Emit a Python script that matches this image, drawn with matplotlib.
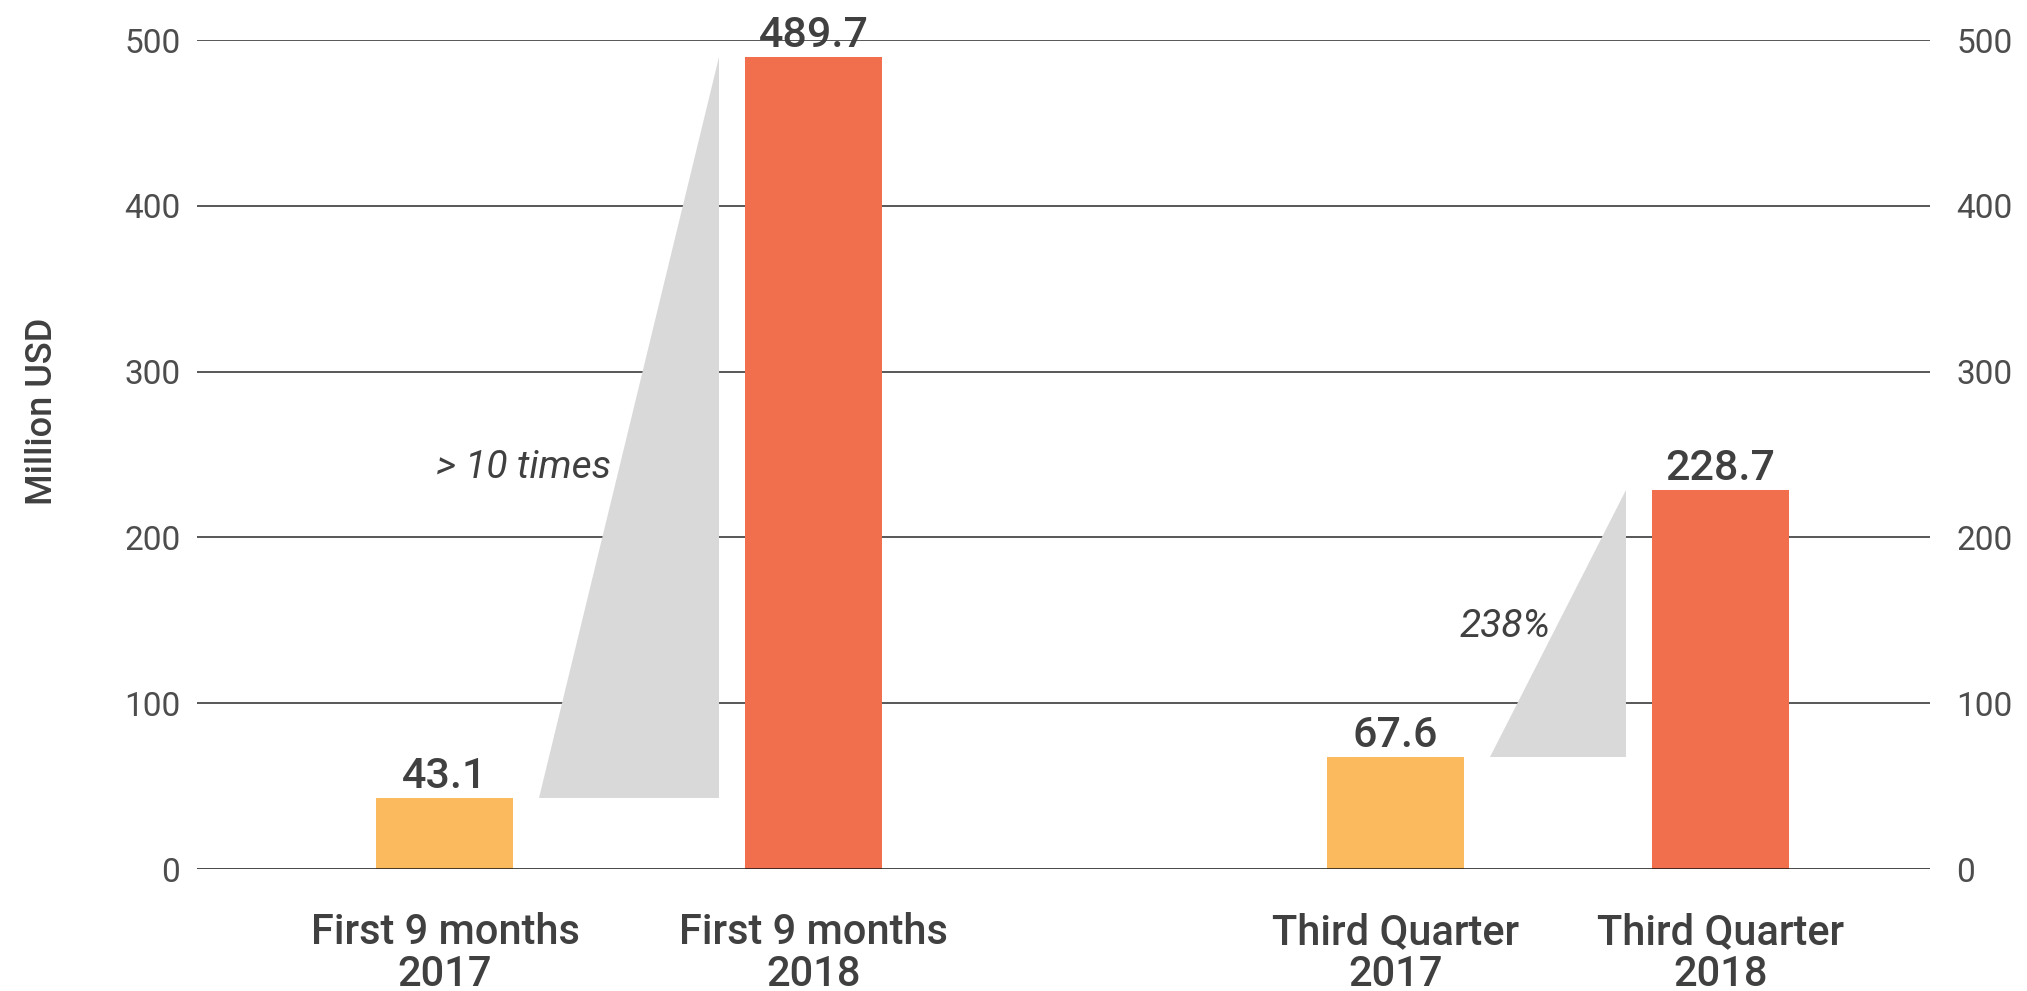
import matplotlib.pyplot as plt

# Revenue in million USD
categories = ["First 9 months\n2017", "First 9 months\n2018",
              "Third Quarter\n2017", "Third Quarter\n2018"]
values = [43.1, 489.7, 67.6, 228.7]
bar_colors = ["#FBBA5D", "#F26F4D", "#FBBA5D", "#F26F4D"]
growth_labels = ["> 10 times", "238%"]
y_ticks = [0, 100, 200, 300, 400, 500]

# layout (x in bar-width units)
x_pos = [1.81, 4.50, 8.75, 11.12]
growth_text_pos = [(3.02, 242), (9.88, 146)]
text_color = "#404040"

plt.rcParams['font.family'] = ['Roboto', 'DejaVu Sans']

fig = plt.figure(figsize=(20.27, 9.91), dpi=100)
ax = fig.add_axes([0.0972, 0.1231, 0.8549, 0.8365])
ax.set_xlim(0, 12.65)
ax.set_ylim(0, 500)

# horizontal grid
for t in y_ticks[1:]:
    ax.axhline(t, color="#4a4a4a", lw=1.3, zorder=0)
ax.axhline(0, color="#111111", lw=1.8, zorder=3)

ax.bar(x_pos, values, width=1.0, color=bar_colors, zorder=2)

# growth wedges between each pair of bars
gap = 0.19
for i in (0, 2):
    x0 = x_pos[i] + 0.5 + gap
    x1 = x_pos[i + 1] - 0.5 - gap
    ax.fill([x0, x1, x1], [values[i], values[i], values[i + 1]],
            color="#D9D9D9", lw=0, zorder=1)

for (gx, gy), lab in zip(growth_text_pos, growth_labels):
    ax.text(gx, gy, lab, ha="right", va="center", fontsize=28,
            fontstyle="italic", fontweight="normal", color=text_color, zorder=4)

for x, v in zip(x_pos, values):
    ax.annotate(f"{v:.1f}", (x, v), xytext=(0, 7), textcoords="offset points",
                ha="center", va="baseline", fontsize=31, fontweight="medium",
                color=text_color, annotation_clip=False)

ax.set_xticks(x_pos)
ax.set_xticklabels(categories, fontsize=30, fontweight="medium",
                   color=text_color, linespacing=1.02)
ax.tick_params(axis="x", length=0, pad=31)

ax.set_yticks(y_ticks)
ax.tick_params(axis="y", length=0, pad=12, labelsize=24, labelcolor="#4d4d4d")

ax2 = ax.twinx()
ax2.set_ylim(ax.get_ylim())
ax2.set_yticks(y_ticks)
ax2.tick_params(axis="y", length=0, pad=19, labelsize=24, labelcolor="#4d4d4d")

for a in (ax, ax2):
    for s in a.spines.values():
        s.set_visible(False)

fig.text(0.021, 0.585, "Million USD", rotation=90, ha="center", va="center",
         fontsize=26, fontweight="medium", color=text_color)

fig.savefig("out.png", dpi=100, facecolor="white")
